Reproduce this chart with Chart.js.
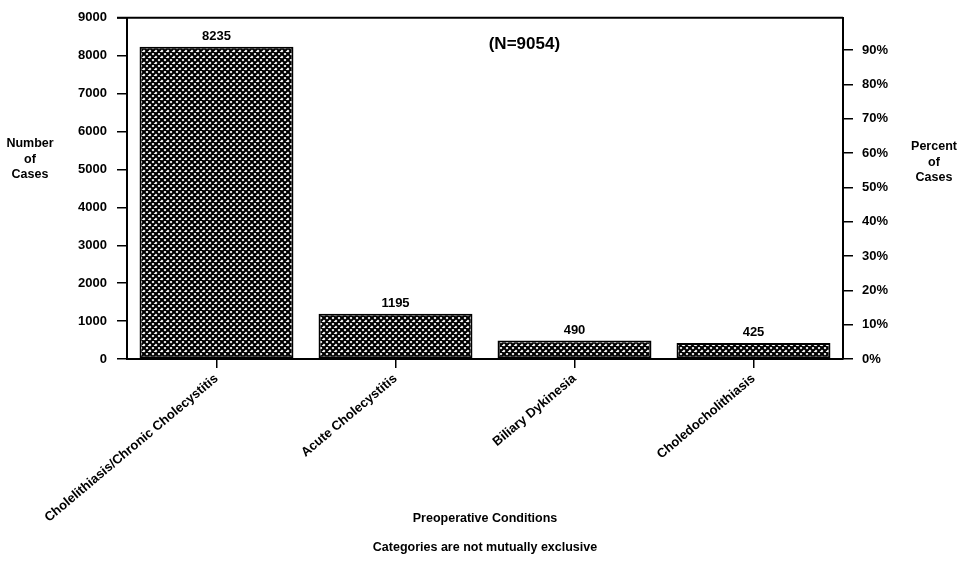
<!DOCTYPE html>
<html>
<head>
<meta charset="utf-8">
<script src="https://cdn.jsdelivr.net/npm/chart.js@4.4.0/dist/chart.umd.min.js"></script>
<style>
  html, body { margin: 0; padding: 0; background: #fff; }
</style>
</head>
<body>
<canvas id="myChart" width="958" height="564"></canvas>
<script>
// data
const conditions = ['Cholelithiasis/Chronic Cholecystitis', 'Acute Cholecystitis', 'Biliary Dykinesia', 'Choledocholithiasis'];
const cases = [8235, 1195, 490, 425];
const totalCases = 9054;
const caseTicks = [0, 1000, 2000, 3000, 4000, 5000, 6000, 7000, 8000, 9000];
const percentTicks = [0, 10, 20, 30, 40, 50, 60, 70, 80, 90];

const FONT = '"Liberation Sans", Arial, sans-serif';

// black cross-hatch with small white diamonds
function makeHatch() {
  const c = document.createElement('canvas');
  c.width = 6; c.height = 6;
  const g = c.getContext('2d');
  g.fillStyle = '#fff';
  g.fillRect(0, 0, 6, 6);
  g.strokeStyle = '#000';
  g.lineWidth = 2.2;
  g.beginPath();
  [-6, 0, 6].forEach(k => { g.moveTo(k - 2, -2); g.lineTo(k + 8, 8); });
  [0, 6, 12].forEach(k => { g.moveTo(k + 2, -2); g.lineTo(k - 8, 8); });
  g.stroke();
  return g.createPattern(c, 'repeat');
}

function drawStack(ctx, lines, x, y, lh) {
  lines.forEach((t, i) => ctx.fillText(t, x, y + i * lh));
}

const extras = {
  id: 'extras',
  afterDatasetsDraw(chart) {
    const { ctx, chartArea: a } = chart;
    ctx.save();
    // top frame line
    ctx.strokeStyle = '#000';
    ctx.lineWidth = 2;
    ctx.beginPath();
    ctx.moveTo(a.left - 10, a.top);
    ctx.lineTo(a.right, a.top);
    ctx.stroke();

    ctx.fillStyle = '#000';
    ctx.textAlign = 'center';

    // value on top of each bar
    ctx.font = 'bold 13px ' + FONT;
    ctx.textBaseline = 'bottom';
    chart.getDatasetMeta(0).data.forEach((bar, i) => {
      ctx.fillText(String(cases[i]), bar.x, bar.y - 4);
    });

    // sample size
    ctx.textBaseline = 'middle';
    ctx.font = 'bold 17px ' + FONT;
    ctx.fillText('(N=' + totalCases + ')', a.left + a.width * 0.555, a.top + 27);

    // side titles (horizontal, stacked)
    ctx.font = 'bold 12.5px ' + FONT;
    drawStack(ctx, ['Number', 'of', 'Cases'], 30, a.top + 126, 15.5);
    drawStack(ctx, ['Percent', 'of', 'Cases'], 934, a.top + 129, 15.5);
    ctx.restore();
  }
};

const ctx = document.getElementById('myChart');

new Chart(ctx, {
  type: 'bar',
  data: {
    labels: conditions,
    datasets: [{
      data: cases,
      backgroundColor: makeHatch(),
      borderColor: '#000',
      borderWidth: 2,
      borderSkipped: false,
      barPercentage: 0.86,
      categoryPercentage: 1,
      yAxisID: 'y'
    }]
  },
  options: {
    responsive: false,
    animation: false,
    layout: { padding: { left: 78, right: 55, top: 16, bottom: 0 } },
    plugins: {
      legend: { display: false },
      tooltip: { enabled: false }
    },
    scales: {
      x: {
        grid: { offset: false, drawOnChartArea: false, tickLength: 9, color: '#000', lineWidth: 1.5 },
        border: { color: '#000', width: 2 },
        ticks: {
          autoSkip: false, maxRotation: 40, minRotation: 40, padding: 3,
          color: '#000', font: { family: FONT, size: 13, weight: 'bold' }
        },
        title: {
          display: true,
          text: ['Preoperative Conditions', 'Categories are not mutually exclusive'],
          color: '#000',
          font: { family: FONT, size: 12.5, weight: 'bold', lineHeight: '29px' },
          padding: { top: 0, bottom: 2 }
        },
        afterFit(scale) { scale.height = 205; }
      },
      y: {
        position: 'left',
        min: 0,
        max: 9000,
        grid: { drawOnChartArea: false, tickLength: 10, color: '#000', lineWidth: 1.5 },
        border: { color: '#000', width: 2 },
        ticks: {
          padding: 10, color: '#000', font: { family: FONT, size: 13, weight: 'bold' },
          callback: v => String(v)
        },
        afterBuildTicks(scale) { scale.ticks = caseTicks.map(v => ({ value: v })); },
        afterFit(scale) { scale.width = 49; }
      },
      pct: {
        position: 'right',
        min: 0,
        max: 9000 / totalCases * 100,
        grid: { drawOnChartArea: false, tickLength: 10, color: '#000', lineWidth: 1.5 },
        border: { color: '#000', width: 2 },
        ticks: {
          padding: 9, color: '#000', font: { family: FONT, size: 13, weight: 'bold' },
          callback: v => v + '%'
        },
        afterBuildTicks(scale) { scale.ticks = percentTicks.map(v => ({ value: v })); },
        afterFit(scale) { scale.width = 60; }
      }
    }
  },
  plugins: [extras]
});
</script>
</body>
</html>
